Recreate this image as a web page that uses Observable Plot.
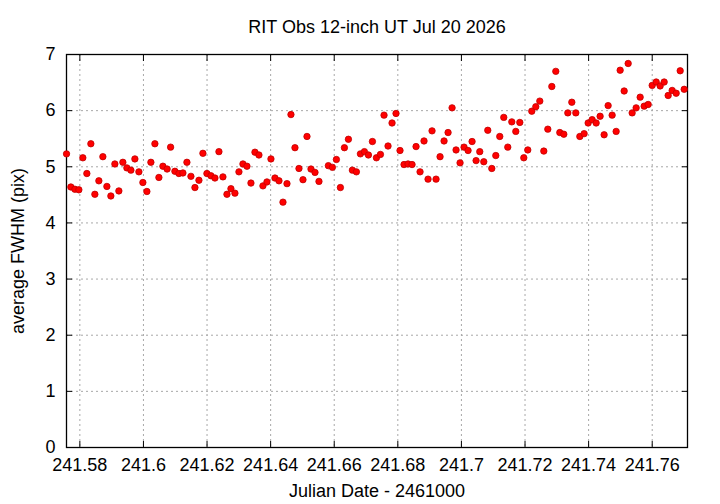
<!DOCTYPE html>
<html>
<head>
<meta charset="utf-8">
<script src="https://cdn.jsdelivr.net/npm/d3@7"></script>
<script src="https://cdn.jsdelivr.net/npm/@observablehq/plot@0.6"></script>
<style>
  html, body { margin: 0; padding: 0; background: #fff; }
  svg { display: block; }
</style>
</head>
<body>
<div id="chart"></div>
<script>
const title = "RIT Obs 12-inch UT Jul 20 2026";
const xLabel = "Julian Date - 2461000";
const yLabel = "average FWHM (pix)";

const jd = [
  241.57581, 241.57717, 241.57843, 241.57969, 241.58094, 241.58220, 241.58346, 241.58472, 241.58598, 241.58724,
  241.58850, 241.58975, 241.59101, 241.59227, 241.59353, 241.59479, 241.59605, 241.59731, 241.59857, 241.59982,
  241.60108, 241.60234, 241.60360, 241.60486, 241.60612, 241.60744, 241.60854, 241.60989, 241.61115, 241.61241,
  241.61367, 241.61493, 241.61619, 241.61745, 241.61870, 241.61996, 241.62122, 241.62248, 241.62374, 241.62500,
  241.62626, 241.62751, 241.62877, 241.63003, 241.63129, 241.63255, 241.63381, 241.63507, 241.63632, 241.63758,
  241.63884, 241.64010, 241.64136, 241.64262, 241.64388, 241.64514, 241.64639, 241.64765, 241.64891, 241.65017,
  241.65143, 241.65269, 241.65395, 241.65520, 241.65816, 241.65942, 241.66068, 241.66194, 241.66320, 241.66446,
  241.66571, 241.66697, 241.66823, 241.66949, 241.67075, 241.67201, 241.67327, 241.67453, 241.67566, 241.67692,
  241.67818, 241.67943, 241.68069, 241.68195, 241.68321, 241.68447, 241.68573, 241.68699, 241.68824, 241.68950,
  241.69076, 241.69202, 241.69328, 241.69454, 241.69580, 241.69706, 241.69831, 241.69957, 241.70083, 241.70209,
  241.70335, 241.70461, 241.70577, 241.70703, 241.70829, 241.70955, 241.71081, 241.71206, 241.71332, 241.71458,
  241.71584, 241.71710, 241.71836, 241.71962, 241.72087, 241.72213, 241.72339, 241.72465, 241.72591, 241.72717,
  241.72843, 241.72968, 241.73094, 241.73220, 241.73346, 241.73472, 241.73598, 241.73724, 241.73859, 241.73985,
  241.74111, 241.74237, 241.74362, 241.74488, 241.74614, 241.74740, 241.74866, 241.74992, 241.75118, 241.75244,
  241.75369, 241.75495, 241.75621, 241.75747, 241.75873, 241.75999, 241.76125, 241.76250, 241.76376, 241.76502,
  241.76628, 241.76754, 241.76880, 241.77006
];

const fwhm = [
  5.23, 4.64, 4.60, 4.59, 5.16, 4.88, 5.41, 4.51, 4.75, 5.18,
  4.65, 4.48, 5.05, 4.57, 5.08, 4.98, 4.94, 5.14, 4.91, 4.72,
  4.56, 5.08, 5.41, 4.81, 5.01, 4.96, 5.35, 4.92, 4.88, 4.89,
  5.08, 4.83, 4.63, 4.76, 5.24, 4.88, 4.84, 4.80, 5.27, 4.82,
  4.51, 4.61, 4.53, 4.91, 5.05, 5.01, 4.71, 5.26, 5.21, 4.66,
  4.73, 5.14, 4.80, 4.75, 4.37, 4.70, 5.93, 5.34, 4.97, 4.77,
  5.54, 4.96, 4.90, 4.74, 5.02, 4.99, 5.13, 4.63, 5.34, 5.49,
  4.94, 4.91, 5.23, 5.27, 5.21, 5.45, 5.16, 5.22, 5.92, 5.37,
  5.78, 5.95, 5.29, 5.04, 5.05, 5.04, 5.36, 4.91, 5.46, 4.78,
  5.64, 4.78, 5.18, 5.46, 5.61, 6.05, 5.30, 5.07, 5.35, 5.29,
  5.45, 5.11, 5.27, 5.09, 5.65, 4.97, 5.20, 5.54, 5.88, 5.35,
  5.80, 5.63, 5.79, 5.16, 5.30, 5.99, 6.07, 6.17, 5.28, 5.67,
  6.43, 6.70, 5.61, 5.58, 5.96, 6.15, 5.96, 5.54, 5.59, 5.78,
  5.84, 5.78, 5.90, 5.57, 6.09, 5.92, 5.63, 6.72, 6.35, 6.84,
  5.96, 6.05, 6.24, 6.08, 6.11, 6.45, 6.51, 6.44, 6.51, 6.27,
  6.36, 6.31, 6.71, 6.38
];

const xTicks = [241.58, 241.6, 241.62, 241.64, 241.66, 241.68, 241.7, 241.72, 241.74, 241.76];
const xTickLabels = ["241.58", "241.6", "241.62", "241.64", "241.66", "241.68", "241.7", "241.72", "241.74", "241.76"];
const yTicks = [0, 1, 2, 3, 4, 5, 6, 7];
const yTickLabels = ["0", "1", "2", "3", "4", "5", "6", "7"];
const xDomain = [241.5758, 241.7711];
const yDomain = [0, 7];

const data = jd.map((t, i) => ({t, v: fwhm[i]}));
const xFmt = d => xTickLabels[xTicks.indexOf(d)] ?? String(d);
const yFmt = d => yTickLabels[yTicks.indexOf(d)] ?? String(d);
const font = "'Liberation Sans', Arial, Helvetica, sans-serif";

const chart = Plot.plot({
  width: 720,
  height: 504,
  marginLeft: 66,
  marginRight: 33,
  marginTop: 54,
  marginBottom: 57,
  style: {fontFamily: font, fontSize: "18px", color: "black", background: "white"},
  x: {domain: xDomain},
  y: {domain: yDomain},
  marks: [
    Plot.gridX(xTicks, {stroke: "#a8a8a8", strokeOpacity: 1, strokeDasharray: "2,3", strokeWidth: 1}),
    Plot.gridY(yTicks, {stroke: "#a8a8a8", strokeOpacity: 1, strokeDasharray: "2,3", strokeWidth: 1}),
    Plot.axisX(xTicks, {anchor: "bottom", tickSize: -6, tickPadding: 17, tickFormat: xFmt, fontSize: 18, label: null}),
    Plot.axisX(xTicks, {anchor: "top", tickSize: -6, tickFormat: () => "", label: null}),
    Plot.axisY(yTicks, {anchor: "left", tickSize: -6, tickPadding: 17, tickFormat: yFmt, fontSize: 18, label: null}),
    Plot.axisY(yTicks, {anchor: "right", tickSize: -6, tickFormat: () => "", label: null}),
    Plot.frame({stroke: "black", strokeWidth: 1.3}),
    Plot.dot(data, {x: "t", y: "v", r: 3.2, fill: "#ff0000", stroke: "#c00000", strokeWidth: 0.8}),
    Plot.text([title], {frameAnchor: "top", lineAnchor: "middle", textAnchor: "middle", dy: -27, fontSize: 18}),
    Plot.text([xLabel], {frameAnchor: "bottom", lineAnchor: "middle", textAnchor: "middle", dy: 44, fontSize: 18}),
    Plot.text([yLabel], {frameAnchor: "left", lineAnchor: "middle", textAnchor: "middle", dx: -48, rotate: -90, fontSize: 18})
  ]
});
document.getElementById("chart").appendChild(chart);
</script>
</body>
</html>
